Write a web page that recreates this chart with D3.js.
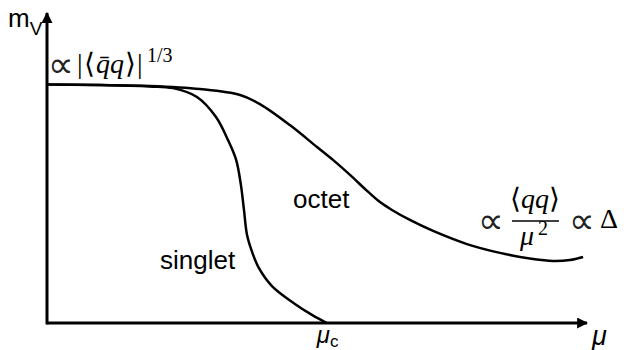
<!DOCTYPE html>
<html>
<head>
<meta charset="utf-8">
<script src="https://cdn.jsdelivr.net/npm/d3@7"></script>
<style>
  body { margin: 0; background: #fff; }
  svg { display: block; }
</style>
</head>
<body>
<div id="chart"></div>
<script>
// curves: mu in units of mu_c, m in units of m_V(0)
var singletMu = [0, 0.189, 0.368, 0.450, 0.536, 0.604, 0.647, 0.676, 0.693, 0.704, 0.715, 0.733, 0.757, 0.804, 0.886, 0.947, 1.0];
var singletM  = [1.0, 0.998, 0.992, 0.985, 0.948, 0.864, 0.767, 0.684, 0.579, 0.474, 0.369, 0.298, 0.231, 0.155, 0.080, 0.034, 0];

var octetMu = [0, 0.189, 0.368, 0.547, 0.690, 0.761, 0.868, 0.965, 1.022, 1.083, 1.144, 1.190, 1.233, 1.297, 1.380, 1.501, 1.619, 1.737, 1.808, 1.869, 1.916];
var octetM  = [1.0, 0.998, 0.994, 0.981, 0.956, 0.918, 0.830, 0.738, 0.684, 0.621, 0.554, 0.507, 0.474, 0.432, 0.386, 0.331, 0.294, 0.268, 0.260, 0.264, 0.277];

var muMax = 1.93, mMax = 1.3;
var muC = 1.0;

var SANS = "'Liberation Sans', Arial, sans-serif";
var SERIF = "'Liberation Serif', 'Times New Roman', serif";
var SYM = "'DejaVu Sans', sans-serif";

var width = 624, height = 350;
var x = d3.scaleLinear().domain([0, muMax]).range([47, 587]);
var y = d3.scaleLinear().domain([0, mMax]).range([323, 13]);

var svg = d3.select("#chart").append("svg")
  .attr("width", width).attr("height", height);

var defs = svg.append("defs");
defs.append("marker")
  .attr("id", "arrow")
  .attr("viewBox", "0 0 10 10")
  .attr("refX", 9).attr("refY", 5)
  .attr("markerWidth", 11).attr("markerHeight", 11)
  .attr("markerUnits", "userSpaceOnUse")
  .attr("orient", "auto")
  .append("path").attr("d", "M0,0 L10,5 L0,10 Z").attr("fill", "#000");

// axes
svg.append("line")
  .attr("x1", x(0)).attr("y1", y(0)).attr("x2", x(muMax)).attr("y2", y(0))
  .attr("stroke", "#000").attr("stroke-width", 3)
  .attr("marker-end", "url(#arrow)");
svg.append("line")
  .attr("x1", x(0)).attr("y1", y(0) + 1.5).attr("x2", x(0)).attr("y2", y(mMax))
  .attr("stroke", "#000").attr("stroke-width", 3)
  .attr("marker-end", "url(#arrow)");

var line = d3.line()
  .x(d => x(d[0]))
  .y(d => y(d[1]))
  .curve(d3.curveCatmullRom.alpha(0.5));

var series = [
  d3.zip(singletMu, singletM),
  d3.zip(octetMu, octetM)
];

svg.selectAll(".curve")
  .data(series).enter()
  .append("path")
  .attr("class", "curve")
  .attr("d", line)
  .attr("fill", "none")
  .attr("stroke", "#000")
  .attr("stroke-width", 2.5);

function txt(px, py, size, family) {
  return svg.append("text")
    .attr("x", px).attr("y", py)
    .style("font-family", family)
    .style("font-size", size + "px")
    .style("fill", "#000");
}

// thin proportional-to sign
function prop(px, py) {
  return txt(px, py, 36, SYM).style("font-weight", 200).style("fill", "#222").text("∝");
}

// axis labels
var mv = txt(8, 27, 26, SANS);
mv.append("tspan").text("m");
mv.append("tspan").style("font-size", "19px").attr("dy", 8).text("V");

txt(x(muMax) + 5, y(0) + 22, 27, SANS).style("font-style", "italic").text("μ");

var muc = txt(x(muC) - 10, y(0) + 20, 24, SANS);
muc.append("tspan").style("font-style", "italic").text("μ");
muc.append("tspan").style("font-size", "17px").attr("dy", 4).text("c");

// curve labels
txt(293, 208, 26, SANS).text("octet");
txt(160, 269, 26, SANS).text("singlet");

// low-mu estimate  ∝ |<q̄q>|^(1/3)
var base = 73;
prop(48, base + 4);
txt(77, base, 28, SERIF).text("|");
txt(84, base, 28, SERIF).text("⟨");
txt(96, base, 28, SERIF).style("font-style", "italic").text("q\u0304q");
txt(125, base, 28, SERIF).text("⟩");
txt(137, base, 28, SERIF).text("|");
txt(147, base - 11, 20, SERIF).text("1/3");

// high-mu estimate: ∝ <qq>/μ² ∝ Δ
var fx = 535, bar = 221;
prop(478, bar + 12);
var num = txt(fx, bar - 13, 28, SERIF).attr("text-anchor", "middle");
num.append("tspan").text("⟨");
num.append("tspan").style("font-style", "italic").text("qq");
num.append("tspan").text("⟩");
svg.append("line")
  .attr("x1", 512).attr("x2", 559).attr("y1", bar).attr("y2", bar)
  .attr("stroke", "#000").attr("stroke-width", 1.3);
txt(520, bar + 24, 28, SERIF).style("font-style", "italic").text("μ");
txt(538, bar + 14, 20, SERIF).text("2");
prop(569, bar + 12);
txt(600, bar + 7, 28, SERIF).text("Δ");
</script>
</body>
</html>
